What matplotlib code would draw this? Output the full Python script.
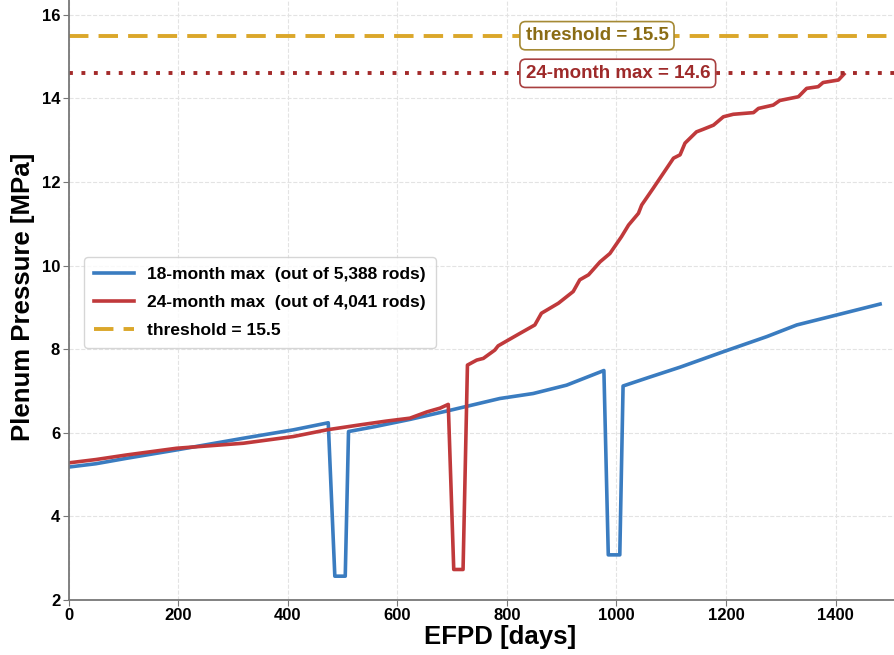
import matplotlib.pyplot as plt
import numpy as np

# 18-month cycle, max plenum pressure (MPa) vs EFPD
days_18 = [0, 50, 106, 197, 319, 410, 474, 486, 505, 511, 560, 623, 700, 787,
           848, 909, 977, 985, 1006, 1012, 1060, 1116, 1195, 1274, 1329, 1390, 1481]
p_18 = [5.18, 5.26, 5.39, 5.59, 5.87, 6.07, 6.24, 2.57, 2.57, 6.03, 6.15, 6.32,
        6.55, 6.82, 6.94, 7.14, 7.49, 3.08, 3.08, 7.12, 7.33, 7.57, 7.94, 8.30,
        8.58, 8.78, 9.08]

# 24-month cycle
days_24 = [0, 50, 106, 197, 319, 410, 471, 532, 580, 623, 654, 678, 693, 703,
           720, 728, 745, 757, 778, 784, 824, 851, 863, 894, 921, 933, 949, 970,
           988, 1009, 1022, 1040, 1046, 1067, 1104, 1116, 1125, 1146, 1158, 1177,
           1195, 1213, 1250, 1259, 1286, 1298, 1332, 1347, 1368, 1377, 1405, 1415]
p_24 = [5.28, 5.36, 5.47, 5.63, 5.75, 5.91, 6.07, 6.19, 6.28, 6.35, 6.50, 6.59,
        6.68, 2.73, 2.73, 7.62, 7.74, 7.78, 7.98, 8.08, 8.38, 8.58, 8.86, 9.10,
        9.38, 9.66, 9.78, 10.09, 10.29, 10.69, 10.97, 11.25, 11.45, 11.85, 12.57,
        12.65, 12.93, 13.20, 13.26, 13.36, 13.56, 13.62, 13.66, 13.76, 13.84,
        13.95, 14.04, 14.24, 14.28, 14.38, 14.44, 14.58]

threshold = 15.5
max_24 = 14.6
x_ticks = [0, 200, 400, 600, 800, 1000, 1200, 1400]
y_ticks = [2, 4, 6, 8, 10, 12, 14, 16]

plt.rcParams['font.family'] = ['Liberation Sans', 'DejaVu Sans']

fig = plt.figure(figsize=(8.95, 6.55), dpi=100)
# axes run past the right/top edge, like the cropped original
ax = fig.add_axes([68.5 / 895, 55 / 655, (1575 * 0.548) / 895, (14.5 * 41.8) / 655])

ax.plot(days_18, p_18, color='#3a7cc0', lw=2.6, label='18-month max  (out of 5,388 rods)')
ax.plot(days_24, p_24, color='#c0393b', lw=2.6, label='24-month max  (out of 4,041 rods)')
ax.axhline(threshold, color='#dba72a', lw=2.8, ls=(0, (5, 2.6)), label='threshold = 15.5')
ax.axhline(max_24, color='#a32a2a', lw=2.8, ls=(0, (1, 2.2)))

ax.text(834, threshold, 'threshold = 15.5', color='#8a6c14', fontsize=13.5,
        fontweight='bold', va='center', ha='left',
        bbox=dict(boxstyle='round,pad=0.3', fc='white', ec='#a58a35', lw=1.2))
ax.text(834, max_24, '24-month max = 14.6', color='#9e2a2a', fontsize=13.5,
        fontweight='bold', va='center', ha='left',
        bbox=dict(boxstyle='round,pad=0.3', fc='white', ec='#a84040', lw=1.2))

ax.set_xlim(0, 1575)
ax.set_ylim(2, 16.5)
ax.set_xticks(x_ticks)
ax.set_yticks(y_ticks)
for lab in ax.get_xticklabels() + ax.get_yticklabels():
    lab.set_fontweight('bold')
    lab.set_fontsize(12)
ax.set_xlabel('EFPD [days]', fontsize=18.5, fontweight='bold', labelpad=1)
ax.set_ylabel('Plenum Pressure [MPa]', fontsize=18.5, fontweight='bold', labelpad=5)

ax.spines['right'].set_color('none')
ax.spines['top'].set_color('none')
ax.spines['left'].set_color('#777777')
ax.spines['bottom'].set_color('#777777')
ax.spines['left'].set_linewidth(1.3)
ax.spines['bottom'].set_linewidth(1.3)
ax.tick_params(length=4, color='#777777', pad=2)

ax.grid(True, ls='--', color='#e3e3e3', lw=0.8)
ax.set_axisbelow(True)

leg = ax.legend(loc='upper left', bbox_to_anchor=(0.008, 0.58),
                prop={'weight': 'bold', 'size': 12.5}, handlelength=2.3,
                labelspacing=0.75, borderpad=0.55,
                frameon=True, fancybox=True)
leg.get_frame().set_edgecolor('#cccccc')

fig.savefig('out.png', dpi=100)
